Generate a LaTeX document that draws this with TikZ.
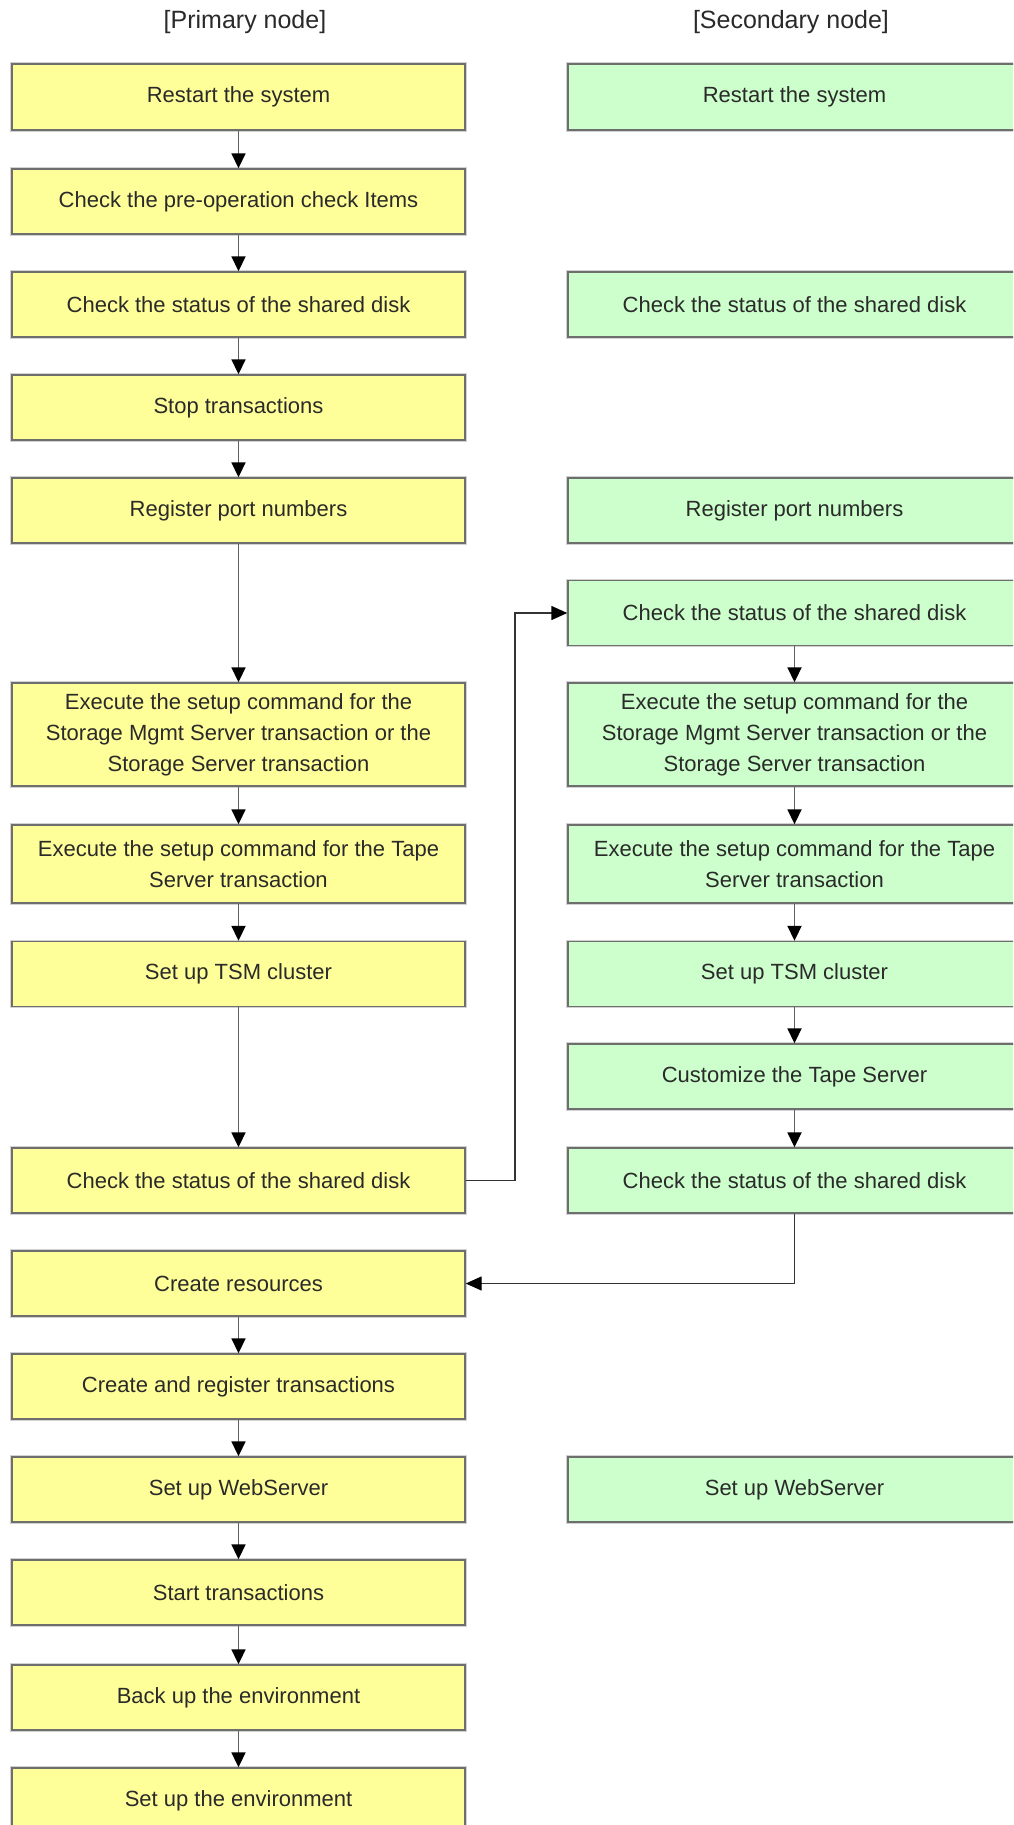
\documentclass[tikz,border=0pt]{standalone}
\usepackage{fontspec}
\setmainfont{Liberation Sans}
\usetikzlibrary{arrows.meta}
\definecolor{pfill}{HTML}{FFFF99}
\definecolor{sfill}{HTML}{CCFFCC}
\definecolor{bordc}{HTML}{6E6E6E}
\definecolor{txtc}{HTML}{2A2A2A}
\tikzset{
  stepbox/.style={rectangle, minimum width=453pt, inner sep=0pt, align=center,
    draw=bordc, line width=1.4pt, text=txtc,
    preaction={draw=gray!35, line width=3.6pt},
    font=\fontsize{22}{31}\selectfont},
  pbox/.style={stepbox, fill=pfill},
  sbox/.style={stepbox, fill=sfill},
  flow/.style={draw=gray!75!black, line width=1.8pt,
    -{Triangle[length=15pt,width=14pt,color=black,fill=black]}},
  link/.style={draw=black!80, line width=1.4pt,
    -{Triangle[length=16pt,width=14pt,color=black,fill=black]}},
  title/.style={text=txtc, font=\fontsize{25}{30}\selectfont}
}
\begin{document}
\begin{tikzpicture}[x=1pt,y=-1pt]
\useasboundingbox (0,0) rectangle (1013,1825);
\clip (0,0) rectangle (1013,1825);
\fill[white] (0,0) rectangle (1013,1825);

\node[title] (tp) at (245,22) {[Primary node]};
\node[title] (ts) at (791,22) {[Secondary node]};

% primary column
\node[pbox, minimum height=66pt] (p1) at (238.5,97) {Restart the system};
\node[pbox, minimum height=65pt] (p2) at (238.5,201.5) {Check the pre-operation check Items};
\node[pbox, minimum height=65pt] (p3) at (238.5,304.5) {Check the status of the shared disk};
\node[pbox, minimum height=65pt] (p4) at (238.5,407.5) {Stop transactions};
\node[pbox, minimum height=65pt] (p5) at (238.5,510.5) {Register port numbers};
\node[pbox, minimum height=103pt] (p6) at (238.5,734.5) {Execute the setup command for the\\Storage Mgmt Server transaction or the\\Storage Server transaction};
\node[pbox, minimum height=78pt] (p7) at (238.5,864) {Execute the setup command for the Tape\\Server transaction};
\node[pbox, minimum height=65pt] (p8) at (238.5,974) {Set up TSM cluster};
\node[pbox, minimum height=65pt] (p9) at (238.5,1180.5) {Check the status of the shared disk};
\node[pbox, minimum height=65pt] (p10) at (238.5,1283.5) {Create resources};
\node[pbox, minimum height=65pt] (p11) at (238.5,1386.5) {Create and register transactions};
\node[pbox, minimum height=65pt] (p12) at (238.5,1489.5) {Set up WebServer};
\node[pbox, minimum height=65pt] (p13) at (238.5,1592.5) {Start transactions};
\node[pbox, minimum height=65pt] (p14) at (238.5,1697.5) {Back up the environment};
\node[pbox, minimum height=65pt] (p15) at (238.5,1800.5) {Set up the environment};

% secondary column
\node[sbox, minimum height=66pt] (s1) at (794.5,97) {Restart the system};
\node[sbox, minimum height=65pt] (s3) at (794.5,304.5) {Check the status of the shared disk};
\node[sbox, minimum height=65pt] (s5) at (794.5,510.5) {Register port numbers};
\node[sbox, minimum height=65pt] (s6) at (794.5,613) {Check the status of the shared disk};
\node[sbox, minimum height=103pt] (s7) at (794.5,734.5) {Execute the setup command for the\\Storage Mgmt Server transaction or the\\Storage Server transaction};
\node[sbox, minimum height=78pt] (s8) at (794.5,864) {Execute the setup command for the Tape\\Server transaction};
\node[sbox, minimum height=65pt] (s9) at (794.5,974) {Set up TSM cluster};
\node[sbox, minimum height=65pt] (s10) at (794.5,1076.5) {Customize the Tape Server};
\node[sbox, minimum height=65pt] (s11) at (794.5,1180.5) {Check the status of the shared disk};
\node[sbox, minimum height=65pt] (s12) at (794.5,1489.5) {Set up WebServer};

% primary flow
\draw[flow] (p1) -- (p2);
\draw[flow] (p2) -- (p3);
\draw[flow] (p3) -- (p4);
\draw[flow] (p4) -- (p5);
\draw[flow] (p5) -- (p6);
\draw[flow] (p6) -- (p7);
\draw[flow] (p7) -- (p8);
\draw[flow] (p8) -- (p9);
\draw[flow] (p10) -- (p11);
\draw[flow] (p11) -- (p12);
\draw[flow] (p12) -- (p13);
\draw[flow] (p13) -- (p14);
\draw[flow] (p14) -- (p15);

% secondary flow
\draw[flow] (s6) -- (s7);
\draw[flow] (s7) -- (s8);
\draw[flow] (s8) -- (s9);
\draw[flow] (s9) -- (s10);
\draw[flow] (s10) -- (s11);

% cross links
\coordinate (bend) at (515,1180.5);
\draw[link] (p9.east) -- (bend) |- (s6.west);
\draw[link] (s11.south) |- (p10.east);
\end{tikzpicture}
\end{document}
